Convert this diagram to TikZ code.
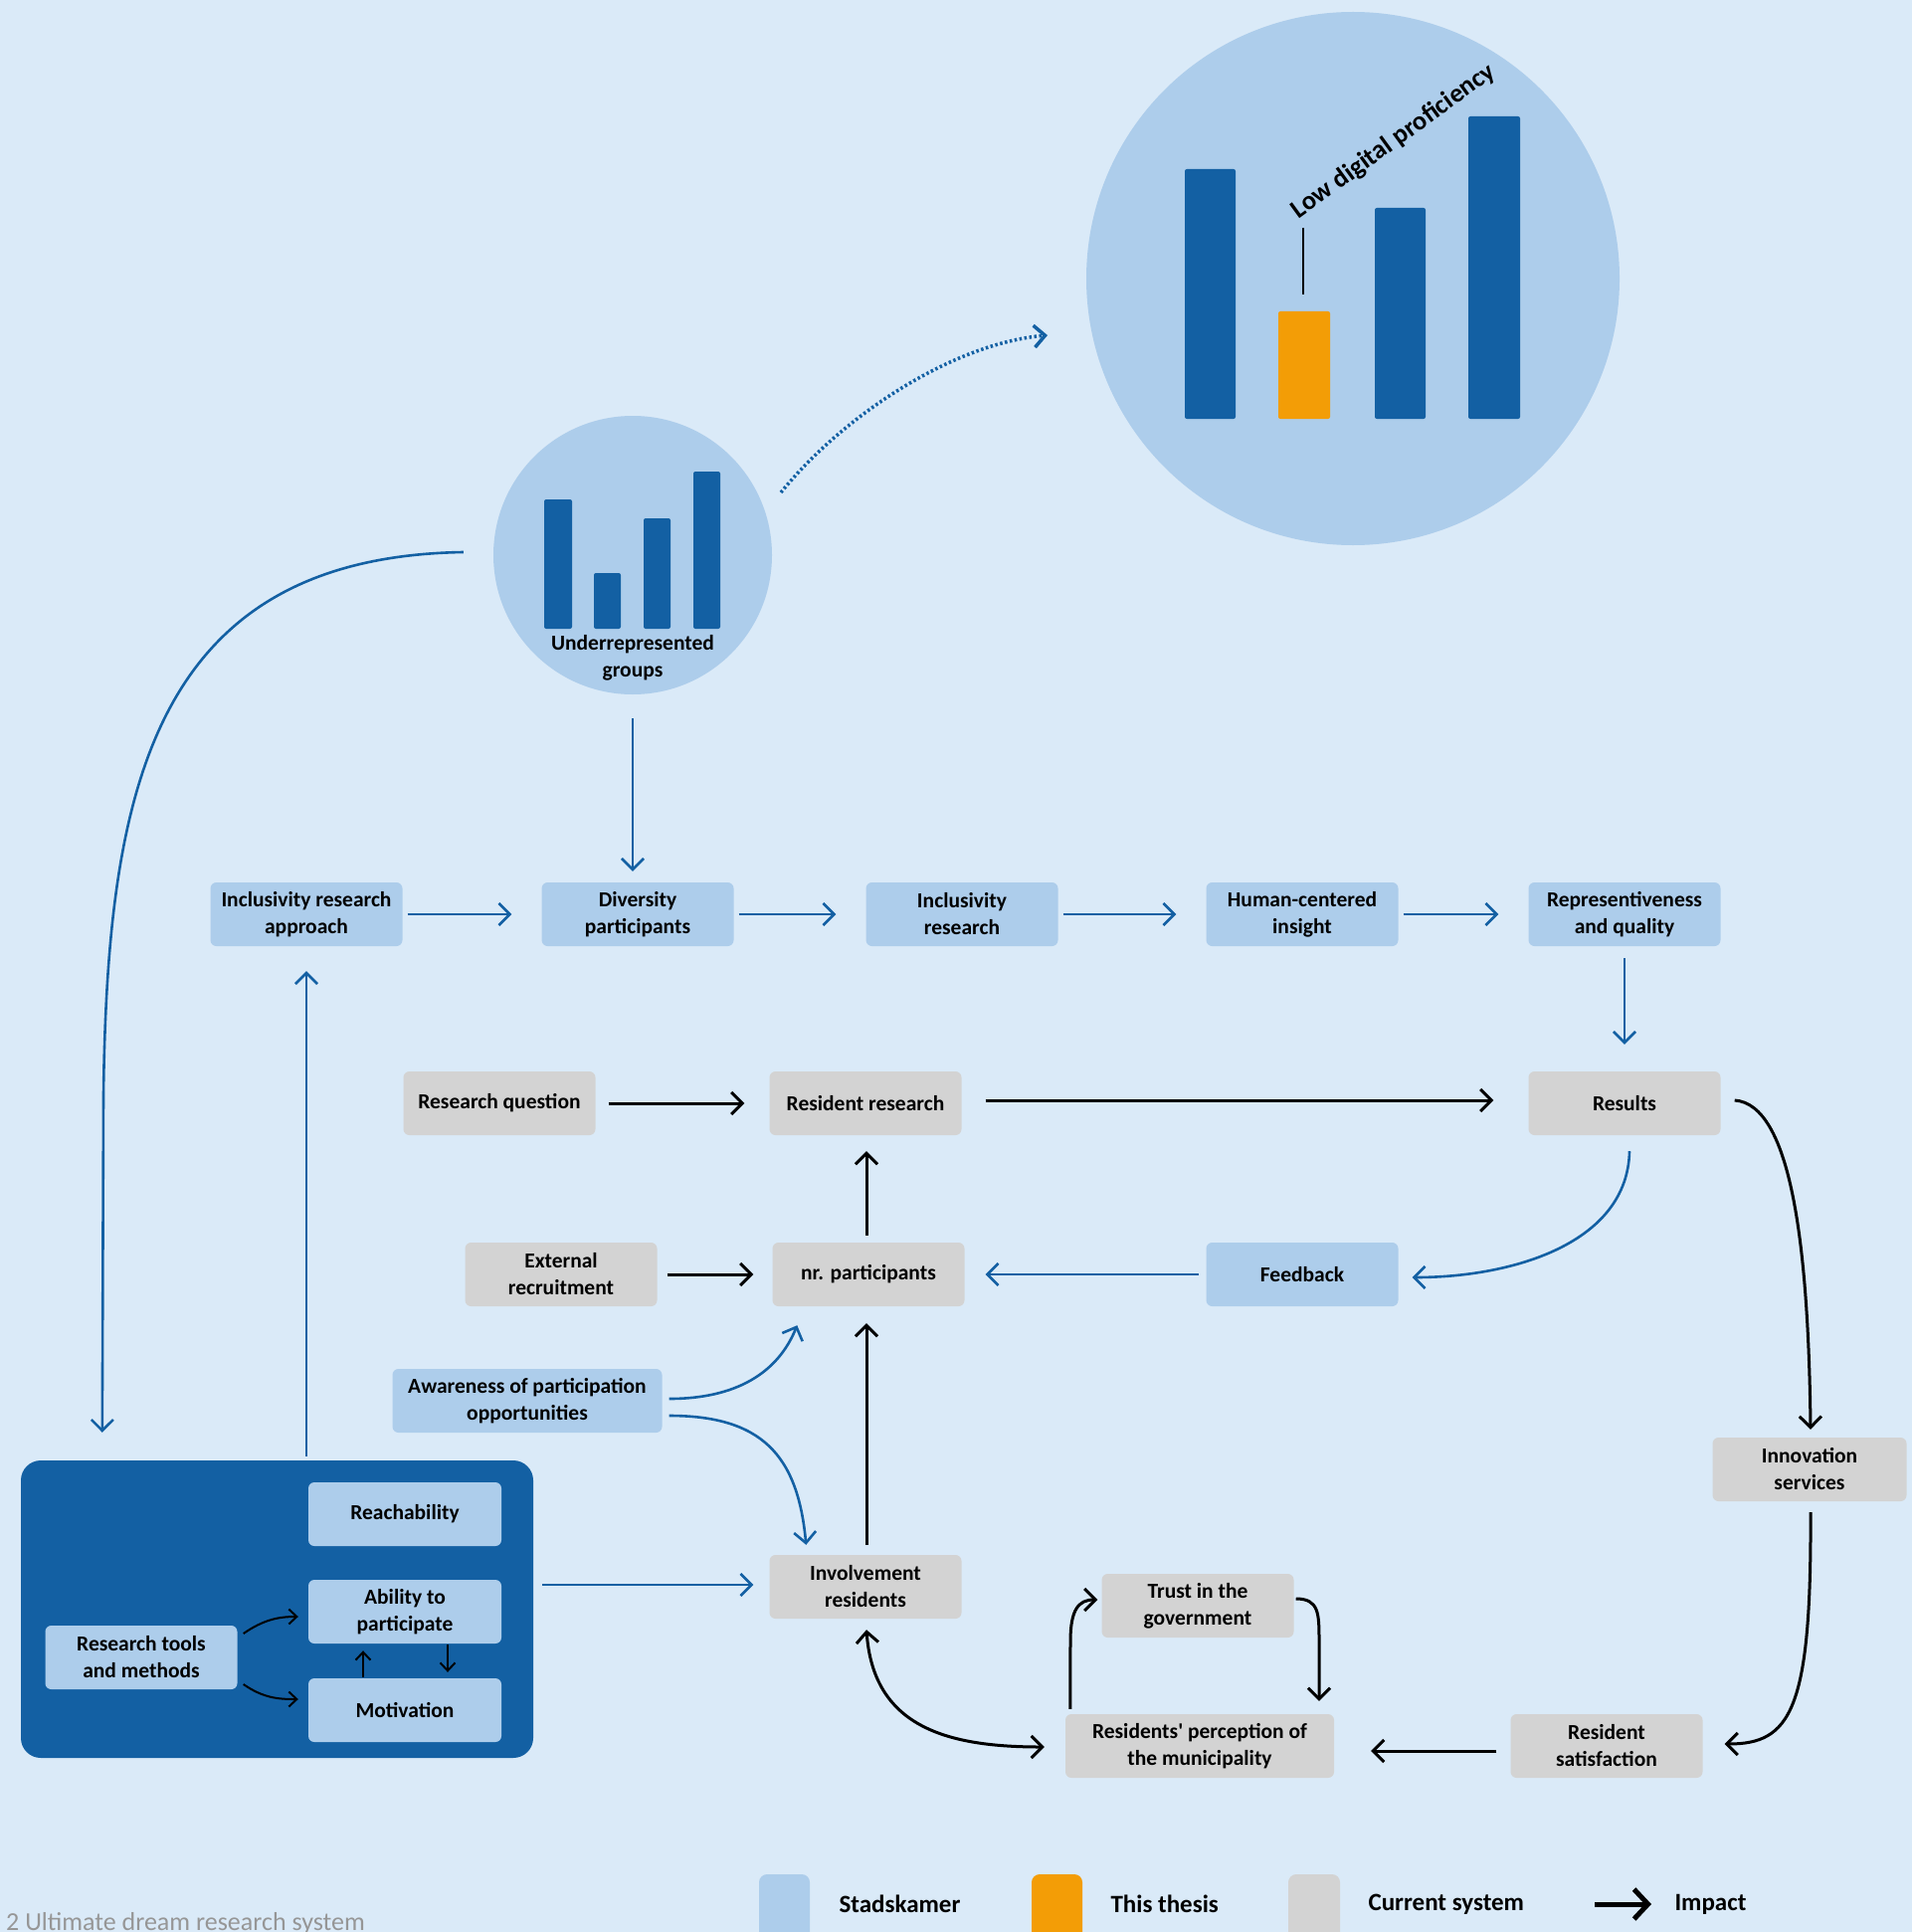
\documentclass[tikz,border=0pt]{standalone}
\usepackage{fontspec}
\setmainfont{Carlito}
\usetikzlibrary{arrows.meta,calc}

\definecolor{bgblue}{RGB}{218,234,248}
\definecolor{lightblue}{RGB}{173,205,235}
\definecolor{darkblue}{RGB}{19,96,163}
\definecolor{boxgray}{RGB}{211,211,211}
\definecolor{orangebar}{RGB}{243,157,6}
\definecolor{captiongray}{RGB}{150,150,150}

\tikzset{
  boxfont/.style={font=\bfseries\fontsize{21.5}{27}\selectfont},
  basebox/.style={boxfont, rounded corners=6pt, minimum width=193pt,
    minimum height=64pt, align=center, inner sep=0pt},
  bluebox/.style={basebox, fill=lightblue},
  graybox/.style={basebox, fill=boxgray},
  blink/.style={draw=darkblue, line width=2.6pt,
    -{Straight Barb[length=11pt,width=22pt]}},
  klink/.style={draw=black, line width=3pt,
    -{Straight Barb[length=11pt,width=22pt]}},
  smalllink/.style={draw=black, line width=2pt,
    -{Straight Barb[length=8pt,width=15pt]}},
  bar/.style={fill=darkblue, rounded corners=2pt},
  legendtext/.style={anchor=west, font=\bfseries\fontsize{25}{29}\selectfont},
}

\begin{document}
\begin{tikzpicture}[x=1pt,y=-1pt]
\clip (0,0) rectangle (1922,1942);
\fill[bgblue] (0,0) rectangle (1922,1942);

% ---------- small pictogram: underrepresented groups ----------
\node[circle, fill=lightblue, minimum size=280pt, inner sep=0pt] (ucircle) at (636,558) {};
\fill[bar] (547,502) rectangle (575,632);
\fill[bar] (597,576) rectangle (624,632);
\fill[bar] (647,521) rectangle (674,632);
\fill[bar] (697,474) rectangle (724,632);
\node[align=center, font=\bfseries\fontsize{21.5}{27}\selectfont] (uglabel) at (636,661) {Underrepresented\\groups};

% ---------- large pictogram: low digital proficiency ----------
\node[circle, fill=lightblue, minimum size=536pt, inner sep=0pt] (bigcircle) at (1360,280) {};
\fill[bar] (1191,170) rectangle (1242,421);
\fill[bar, fill=orangebar] (1285,313) rectangle (1337,421);
\fill[bar] (1382,209) rectangle (1433,421);
\fill[bar] (1476,117) rectangle (1528,421);
\node[rotate=36, anchor=base, inner sep=0pt, font=\bfseries\fontsize{26.5}{30}\selectfont] (ldp) at (1405,148) {Low digital proficiency};
\draw[line width=2.5pt] (1310,229) -- (1310,296);

\coordinate (dotstart) at (785,495);
\coordinate (dotend) at (1053,337);
\draw[draw=darkblue, line width=3.5pt, dash pattern=on 2.5pt off 2.5pt,
  -{Straight Barb[length=11pt,width=22pt]}]
  (dotstart) .. controls (850,415) and (960,345) .. (dotend);

% ---------- top row ----------
\node[bluebox] (ira)  at (308,919)  {Inclusivity research\\approach};
\node[bluebox] (div)  at (641,919)  {Diversity\\participants};
\node[bluebox] (incl) at (967,919)  {Inclusivity\\research};
\node[bluebox] (hci)  at (1309,919) {Human-centered\\insight};
\node[bluebox] (repr) at (1633,919) {Representiveness\\and quality};

% ---------- current system ----------
\node[graybox] (rq)    at (502,1109)  {Research question};
\node[graybox] (rr)    at (870,1109)  {Resident research};
\node[graybox] (res)   at (1633,1109) {Results};
\node[graybox] (ext)   at (564,1281)  {External\\recruitment};
\node[graybox] (nrp)   at (873,1281)  {nr. participants};
\node[bluebox] (fb)    at (1309,1281) {Feedback};
\node[bluebox, minimum width=271pt] (aware) at (530,1408) {Awareness of participation\\opportunities};
\node[graybox, minimum width=195pt] (innov) at (1819,1477) {Innovation\\services};
\node[graybox] (inv)   at (870,1595)  {Involvement\\residents};
\node[graybox] (trust) at (1204,1614) {Trust in the\\government};
\node[graybox, minimum width=270pt] (rperc) at (1206,1755) {Residents\textquotesingle{} perception of\\the municipality};
\node[graybox] (rsat)  at (1615,1755) {Resident\\satisfaction};

% ---------- research tools panel ----------
\node[fill=darkblue, rounded corners=20pt, minimum width=515pt, minimum height=299pt, inner sep=0pt] (panel) at (278.5,1617.5) {};
\node[bluebox, minimum width=194pt] (reach) at (407,1522) {Reachability};
\node[bluebox, minimum width=194pt] (abil)  at (407,1620) {Ability to\\participate};
\node[bluebox, minimum width=194pt] (motiv) at (407,1719) {Motivation};
\node[bluebox, minimum width=193pt] (rtm)   at (142,1666) {Research tools\\and methods};

\draw[smalllink] ($(rtm.east)+(6,-24)$) .. controls (265,1628) and (280,1625) .. ($(abil.west)+(-10,5)$);
\draw[smalllink] ($(rtm.east)+(6,27)$) .. controls (265,1707) and (280,1708) .. ($(motiv.west)+(-10,-11)$);
\draw[smalllink] ($(motiv.north)+(-42,-1)$) -- ($(abil.south)+(-42,7)$);
\draw[smalllink] ($(abil.south)+(43,1)$) -- ($(motiv.north)+(43,-6)$);

% ---------- blue connectors ----------
\draw[blink, shorten <=24pt, shorten >=11pt] (ucircle.south) -- (ucircle.south |- div.north);
\draw[blink, shorten <=5pt, shorten >=30pt] (ira.east) -- (div.west);
\draw[blink, shorten <=5pt, shorten >=30pt] (div.east) -- (incl.west);
\draw[blink, shorten <=5pt, shorten >=30pt] (incl.east) -- (hci.west);
\draw[blink, shorten <=5pt, shorten >=30pt] (hci.east) -- (repr.west);
\draw[blink, shorten <=12pt, shorten >=27pt] (repr.south) -- (repr.south |- res.north);
\draw[blink, shorten <=4pt, shorten >=25pt] (ira.south |- panel.north) -- (ira.south);
\draw[blink] ($(ucircle.west)+(-30,-3)$) .. controls (150,560) and (108,800) .. (104,1100)
  -- ($(panel.north west)+(82,-28)$);
\draw[blink] ($(res.south)+(5,16)$) .. controls (1636,1250) and (1520,1284) .. ($(fb.east)+(14,3)$);
\draw[blink, shorten <=7pt, shorten >=21pt] (fb.west) -- (nrp.east);
\draw[blink] ($(aware.east)+(7,-2)$) .. controls (740,1406) and (782,1380) .. ($(nrp.south west)+(25,19)$);
\draw[blink] ($(aware.east)+(7,15)$) .. controls (765,1423) and (802,1462) .. ($(inv.north west)+(37,-10)$);
\draw[blink] ($(panel.east |- inv.west)+(9,-2)$) -- ($(inv.west)+(-16,-2)$);

% ---------- black connectors ----------
\draw[klink, shorten <=13pt, shorten >=25pt] (rq.east) -- (rr.west);
\draw[klink] ($(rr.east)+(24,-3)$) -- ($(res.west)+(-35,-3)$);
\draw[klink] ($(nrp.north)+(-2,-7)$) -- ($(rr.south)+(1,16)$);
\draw[klink] ($(inv.north)+(1,-10)$) -- ($(nrp.south)+(-2,17)$);
\draw[klink, shorten <=10pt, shorten >=19pt] (ext.east) -- (nrp.west);
\draw[klink] ($(res.east)+(14,-3)$) .. controls (1800,1110) and (1818,1250) .. ($(innov.north)+(1,-8)$);
\draw[klink] ($(innov.south)+(1,11)$) .. controls (1821,1720) and (1800,1753) .. ($(rsat.east)+(22,-2)$);
\draw[klink] ($(rsat.west)+(-14,5)$) -- ($(rperc.east)+(37,5)$);
\draw[klink] ($(rperc.north west)+(5,-5)$) -- (1076,1650) .. controls (1076,1618) and (1084,1608) .. ($(trust.west)+(-4,-6)$);
\draw[klink] ($(trust.east)+(2,-7)$) .. controls (1326,1607) and (1326,1622) .. (1326,1650) -- ($(rperc.north)+(120,-13)$);
\draw[klink, {Straight Barb[length=11pt,width=22pt]}-{Straight Barb[length=11pt,width=22pt]}]
  ($(inv.south)+(1,11)$) .. controls (878,1735) and (950,1756) .. ($(rperc.west)+(-21,1)$);

% ---------- legend ----------
\fill[lightblue, rounded corners=8pt] (763,1884) rectangle (814,1970);
\node[legendtext] (lg1) at (840,1914) {Stadskamer};
\fill[orangebar, rounded corners=8pt] (1037,1884) rectangle (1088,1970);
\node[legendtext] (lg2) at (1113,1914) {This thesis};
\fill[boxgray, rounded corners=8pt] (1295,1884) rectangle (1347,1970);
\node[legendtext] (lg3) at (1372,1914) {Current system};
\coordinate (impA) at (1603,1914);
\coordinate (impB) at (1660,1914);
\draw[line width=5pt, -{Straight Barb[length=14pt,width=30pt]}] (impA) -- (impB);
\node[legendtext] (lg4) at (1680,1914) {Impact};

% ---------- caption ----------
\node[anchor=base west, inner sep=0pt, font=\fontsize{26}{30}\selectfont, text=captiongray] (caption) at (6,1940) {2 Ultimate dream research system};
\end{tikzpicture}
\end{document}
